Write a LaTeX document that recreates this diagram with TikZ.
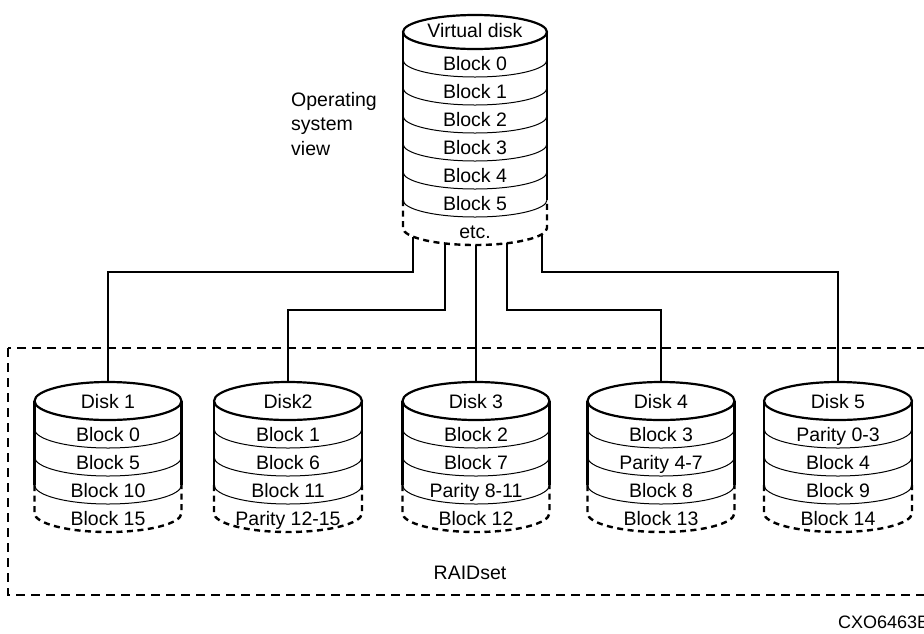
\documentclass[tikz,border=0pt]{standalone}
\usepackage{fontspec}
\setmainfont{Liberation Sans}
\tikzset{
  cylout/.style={line width=2.2pt},
  band/.style={line width=1pt},
  cyldash/.style={line width=2.4pt, dash pattern=on 6pt off 4.5pt},
  conn/.style={line width=1.3pt},
  raidbox/.style={line width=1.5pt, dash pattern=on 9pt off 6pt},
  lbl/.style={inner sep=0pt, text height=14pt, text depth=0pt, font=\fontsize{19.5}{23}\selectfont},
}
\newcommand\drawcyl[5]{% #1 cx, #2 cy (down), #3 rx, #4 ry, #5 solid bands
  \draw[cylout] (#1,-#2) ellipse[x radius=#3, y radius=#4];
  \draw[cylout] (#1-#3,-#2) -- ++(0,-#5*28) (#1+#3,-#2) -- ++(0,-#5*28);
  \foreach \k in {1,...,#5}{
    \draw[band] (#1-#3,-#2-\k*28) arc[start angle=180, end angle=360, x radius=#3, y radius=#4];
  }
  \draw[cyldash] (#1-#3,-#2-#5*28) -- ++(0,-28)
     arc[start angle=180, end angle=360, x radius=#3, y radius=#4] -- ++(0,28);
}
\begin{document}
\begin{tikzpicture}[x=1pt,y=1pt]
\useasboundingbox (0,0) rectangle (924,-633);
\clip (0,0) rectangle (924,-633);

% virtual disk
\drawcyl{475}{32}{72}{17}{6}
\node[lbl] (vt) at (475,-30) {Virtual disk};
\foreach \j in {0,...,5}{
  \node[lbl] (vb\j) at (475,-63-\j*28) {Block \j};
}
\node[lbl] (vetc) at (475,-231) {etc.};

\node[inner sep=0pt, anchor=north west, align=left, font=\fontsize{19.5}{24.5}\selectfont] (osv) at (291,-92) {Operating\\system\\view};

% RAID set frame
\draw[raidbox] (8,-348) rectangle (940,-595);
\node[lbl] (raid) at (470,-572) {RAIDset};

% member disks
\drawcyl{108}{401}{73.5}{19}{3}
\drawcyl{288}{401}{74}{19}{3}
\drawcyl{476}{401}{73.5}{19}{3}
\drawcyl{661}{401}{73.5}{19}{3}
\drawcyl{838}{401}{74}{19}{3}

\node[lbl] (d1) at (108,-401) {Disk 1};
\node[lbl] (d2) at (288,-401) {Disk2};
\node[lbl] (d3) at (476,-401) {Disk 3};
\node[lbl] (d4) at (661,-401) {Disk 4};
\node[lbl] (d5) at (838,-401) {Disk 5};

\node[lbl] (d1a) at (108,-434) {Block 0};
\node[lbl] (d1b) at (108,-462) {Block 5};
\node[lbl] (d1c) at (108,-490) {Block 10};
\node[lbl] (d1d) at (108,-518) {Block 15};

\node[lbl] (d2a) at (288,-434) {Block 1};
\node[lbl] (d2b) at (288,-462) {Block 6};
\node[lbl] (d2c) at (288,-490) {Block 11};
\node[lbl] (d2d) at (288,-518) {Parity 12-15};

\node[lbl] (d3a) at (476,-434) {Block 2};
\node[lbl] (d3b) at (476,-462) {Block 7};
\node[lbl] (d3c) at (476,-490) {Parity 8-11};
\node[lbl] (d3d) at (476,-518) {Block 12};

\node[lbl] (d4a) at (661,-434) {Block 3};
\node[lbl] (d4b) at (661,-462) {Parity 4-7};
\node[lbl] (d4c) at (661,-490) {Block 8};
\node[lbl] (d4d) at (661,-518) {Block 13};

\node[lbl] (d5a) at (838,-434) {Parity 0-3};
\node[lbl] (d5b) at (838,-462) {Block 4};
\node[lbl] (d5c) at (838,-490) {Block 9};
\node[lbl] (d5d) at (838,-518) {Block 14};

% connector ends
\coordinate (v1) at (413,-236.6);
\coordinate (v2) at (445,-243.5);
\coordinate (v3) at (476,-245);
\coordinate (v4) at (507,-243.2);
\coordinate (v5) at (542,-234.2);
\coordinate (t1) at (108,-382);
\coordinate (t2) at (288,-382);
\coordinate (t3) at (476,-382);
\coordinate (t4) at (661,-382);
\coordinate (t5) at (838,-382);

\draw[conn] (v1) -- (413,-236.6 |- 0,-272) -| (t1);
\draw[conn] (v2) -- (445,-243.5 |- 0,-310) -| (t2);
\draw[conn] (v3) -- (t3);
\draw[conn] (v4) -- (507,-243.2 |- 0,-310) -| (t4);
\draw[conn] (v5) -- (542,-234.2 |- 0,-272) -| (t5);

\node[inner sep=0pt, anchor=base west, font=\fontsize{18}{22}\selectfont] (code) at (838,-628) {CXO6463B};
\end{tikzpicture}
\end{document}
